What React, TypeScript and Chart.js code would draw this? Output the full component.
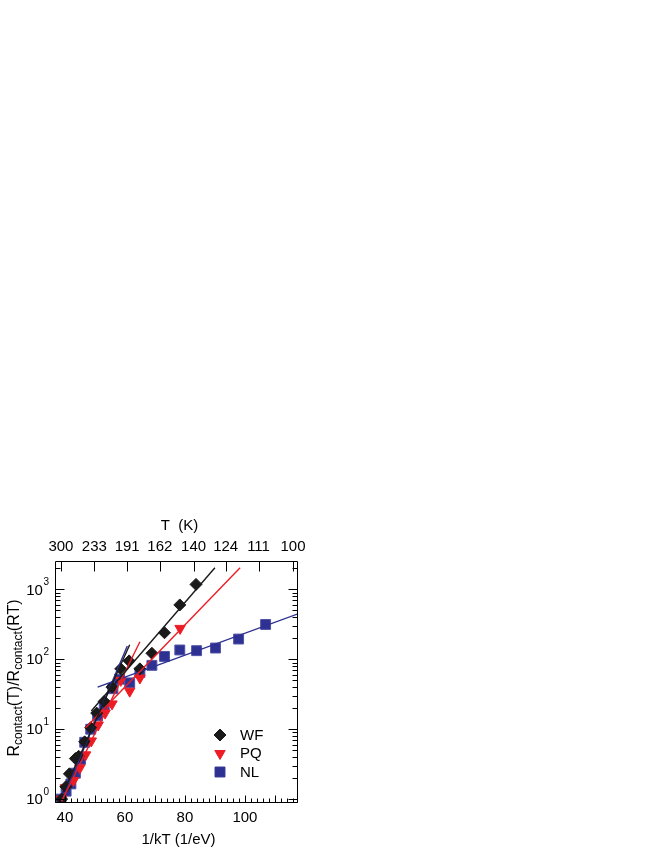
import React, { useEffect, useRef } from 'react';
import { Chart, registerables } from 'chart.js';
import { drawPoint } from 'chart.js/helpers';

Chart.register(...registerables);

// ---- data ----
const BOLTZMANN_EV = 8.617333e-5;
const topTemperatures = [300, 233, 191, 162, 140, 124, 111, 100];
const bottomTickValues = [40, 60, 80, 100];
const yDecades = [1, 10, 100, 1000];

const wfX = [38.9, 40.3, 41.5, 43.5, 44.6, 46.6, 48.6, 50.6, 53.1, 55.7, 58.6, 61.4, 65.0, 69.0, 73.2, 78.3, 83.7];
const wfY = [1.0, 1.5, 2.3, 3.8, 4.1, 6.6, 10.5, 17, 25, 40, 73, 95, 73, 122, 240, 600, 1180];

const pqX = [38.9, 40.1, 42.9, 45.0, 46.9, 48.8, 51.1, 53.4, 55.7, 58.6, 61.6, 65.0, 78.4];
const pqY = [1.0, 1.45, 1.85, 2.8, 4.3, 6.8, 11.5, 17, 23, 50, 35, 54, 277];

const nlX = [38.7, 40.4, 42.0, 43.5, 45.2, 46.6, 48.6, 50.9, 53.1, 56.0, 58.2, 61.6, 65.0, 69.0, 73.2, 78.3, 83.9, 90.2, 97.9, 106.9];
const nlY = [1.0, 1.3, 1.65, 2.35, 3.7, 6.5, 10, 15.5, 22, 38, 52, 46, 65, 82, 110, 136, 133, 145, 195, 315];

const wfFit1X = [39.5, 61.6];
const wfFit1Y = [1.25, 162];
const wfFit2X = [48.8, 90.0];
const wfFit2Y = [18.2, 2040];
const pqFit1X = [38.9, 65.0];
const pqFit1Y = [0.93, 178];
const pqFit2X = [46.9, 98.4];
const pqFit2Y = [10.5, 2040];
const nlFit1X = [38.9, 60.8];
const nlFit1Y = [0.93, 155];
const nlFit2X = [50.9, 117.7];
const nlFit2Y = [40, 447];

const seriesNames = ['WF', 'PQ', 'NL'];

// ---- styles ----
const BLACK = '#1a1a1a';
const RED = '#ed1c24';
const BLUE = '#2e3192';
const FONT = '"Liberation Sans", Arial, sans-serif';

const toPts = (xs: number[], ys: number[]) => xs.map((x, i) => ({ x, y: ys[i] }));

const fitLine = (xs: number[], ys: number[], color: string) => ({
  data: toPts(xs, ys),
  showLine: true,
  borderColor: color,
  borderWidth: 1.4,
  pointRadius: 0,
  pointHoverRadius: 0,
  fill: false,
});

const decorPlugin = {
  id: 'decor',
  afterDatasetsDraw(chart: any) {
    const { ctx, chartArea: a, scales } = chart;
    const xs = scales.x;
    const ys = scales.y;
    const L = Math.round(a.left) + 0.5;
    const R = Math.round(a.right) - 0.5;
    const T = Math.round(a.top) + 0.5;
    const B = Math.round(a.bottom) - 0.5;
    ctx.save();
    ctx.strokeStyle = '#000';
    ctx.lineWidth = 1;
    ctx.beginPath();
    ctx.rect(L, T, R - L, B - T);
    // bottom ticks (inward)
    for (let v = 38; v <= 116; v += 2) {
      const px = Math.round(xs.getPixelForValue(v)) + 0.5;
      const len = v % 10 === 0 ? 7 : 4;
      ctx.moveTo(px, B);
      ctx.lineTo(px, B - len);
    }
    // top ticks (temperature)
    topTemperatures.forEach((t) => {
      const px = Math.round(xs.getPixelForValue(1 / (BOLTZMANN_EV * t))) + 0.5;
      ctx.moveTo(px, T);
      ctx.lineTo(px, T + 10);
    });
    // left/right log ticks
    for (let d = -1; d <= 3; d++) {
      for (let m = 1; m <= 9; m++) {
        const v = m * Math.pow(10, d);
        if (v < ys.min || v > ys.max) continue;
        const py = Math.round(ys.getPixelForValue(v)) + 0.5;
        const len = m === 1 ? 9 : 5;
        ctx.moveTo(L, py);
        ctx.lineTo(L + len, py);
        ctx.moveTo(R, py);
        ctx.lineTo(R - len, py);
      }
    }
    ctx.stroke();

    // ---- text ----
    ctx.fillStyle = '#000';
    ctx.textBaseline = 'middle';
    ctx.font = `15px ${FONT}`;
    ctx.textAlign = 'center';
    bottomTickValues.forEach((v) => {
      ctx.fillText(String(v), xs.getPixelForValue(v), 818);
    });
    topTemperatures.forEach((t) => {
      ctx.fillText(String(t), xs.getPixelForValue(1 / (BOLTZMANN_EV * t)), 547);
    });
    ctx.fillText('1/kT (1/eV)', (a.left + a.right) / 2 + 2, 840);
    ctx.fillText('T  (K)', (a.left + a.right) / 2 + 3, 526);

    // y tick labels 10^n
    yDecades.forEach((v, i) => {
      const py = ys.getPixelForValue(v);
      const exp = String(i);
      ctx.font = `10px ${FONT}`;
      const ew = ctx.measureText(exp).width;
      const right = 49;
      ctx.textAlign = 'left';
      ctx.fillText(exp, right - ew, py - 7);
      ctx.font = `15px ${FONT}`;
      ctx.textAlign = 'right';
      ctx.fillText('10', right - ew - 0.5, py + 1);
    });

    // y title with subscripts
    const parts: [string, boolean][] = [
      ['R', false], ['contact', true], ['(T)/R', false], ['contact', true], ['(RT)', false],
    ];
    ctx.save();
    ctx.translate(13, 678);
    ctx.rotate(-Math.PI / 2);
    ctx.textAlign = 'left';
    ctx.textBaseline = 'alphabetic';
    let total = 0;
    parts.forEach(([s, sub]) => {
      ctx.font = sub ? `12px ${FONT}` : `16px ${FONT}`;
      total += ctx.measureText(s).width;
    });
    let cx = -total / 2;
    parts.forEach(([s, sub]) => {
      ctx.font = sub ? `12px ${FONT}` : `16px ${FONT}`;
      ctx.fillText(s, cx, sub ? 9 : 5.5);
      cx += ctx.measureText(s).width;
    });
    ctx.restore();

    // legend
    const legendItems = [
      { name: seriesNames[0], color: BLACK, style: 'rectRot', radius: 6, rotation: 0 },
      { name: seriesNames[1], color: RED, style: 'triangle', radius: 6, rotation: 180 },
      { name: seriesNames[2], color: BLUE, style: 'rect', radius: 7, rotation: 0 },
    ];
    const rows = [735, 753.5, 772];
    ctx.font = `15px ${FONT}`;
    ctx.textAlign = 'left';
    ctx.textBaseline = 'middle';
    legendItems.forEach((it, i) => {
      ctx.fillStyle = it.color;
      ctx.strokeStyle = it.color;
      drawPoint(ctx, { pointStyle: it.style, radius: it.radius, rotation: it.rotation, borderWidth: 1 }, 220, rows[i]);
      ctx.fillStyle = '#000';
      ctx.fillText(it.name, 240, rows[i] + 0.5);
    });
    ctx.restore();
  },
};

export default function App() {
  const ref = useRef<HTMLCanvasElement | null>(null);

  useEffect(() => {
    if (!ref.current) return;
    const hiddenScale = {
      grid: { display: false },
      border: { display: false },
      ticks: { display: false },
      title: { display: false },
    };
    const chart = new Chart(ref.current, {
      type: 'scatter',
      data: {
        datasets: [
          fitLine(wfFit1X, wfFit1Y, BLACK),
          fitLine(wfFit2X, wfFit2Y, BLACK),
          fitLine(pqFit1X, pqFit1Y, RED),
          fitLine(pqFit2X, pqFit2Y, RED),
          fitLine(nlFit1X, nlFit1Y, BLUE),
          fitLine(nlFit2X, nlFit2Y, BLUE),
          {
            label: seriesNames[0],
            data: toPts(wfX, wfY),
            pointStyle: 'rectRot',
            pointRadius: 6,
            backgroundColor: BLACK,
            borderColor: BLACK,
            borderWidth: 1,
          },
          {
            label: seriesNames[1],
            data: toPts(pqX, pqY),
            pointStyle: 'triangle',
            rotation: 180,
            pointRadius: 6,
            backgroundColor: RED,
            borderColor: RED,
            borderWidth: 1,
          },
          {
            label: seriesNames[2],
            data: toPts(nlX, nlY),
            pointStyle: 'rect',
            pointRadius: 7,
            backgroundColor: BLUE,
            borderColor: '#4f53a8',
            borderWidth: 1,
          },
        ] as any,
      },
      options: {
        responsive: false,
        animation: false,
        devicePixelRatio: 1,
        layout: { padding: { left: 0, right: 366, top: 0, bottom: 0 } },
        plugins: { legend: { display: false }, tooltip: { enabled: false } },
        scales: {
          x: {
            type: 'linear',
            position: 'bottom',
            min: 36.7,
            max: 117.7,
            ...hiddenScale,
            afterFit: (s: any) => { s.height = 57; },
          },
          xTop: {
            type: 'linear',
            position: 'top',
            min: 36.7,
            max: 117.7,
            ...hiddenScale,
            afterFit: (s: any) => { s.height = 561; },
          },
          y: {
            type: 'logarithmic',
            position: 'left',
            min: 0.88,
            max: 2550,
            ...hiddenScale,
            afterFit: (s: any) => { s.width = 55; },
          },
        },
      } as any,
      plugins: [decorPlugin],
    });
    return () => chart.destroy();
  }, []);

  return (
    <div style={{ position: 'absolute', left: 0, top: 0, width: 664, height: 860, background: '#fff' }}>
      <canvas ref={ref} width={664} height={860} style={{ width: 664, height: 860, display: 'block' }} />
    </div>
  );
}
